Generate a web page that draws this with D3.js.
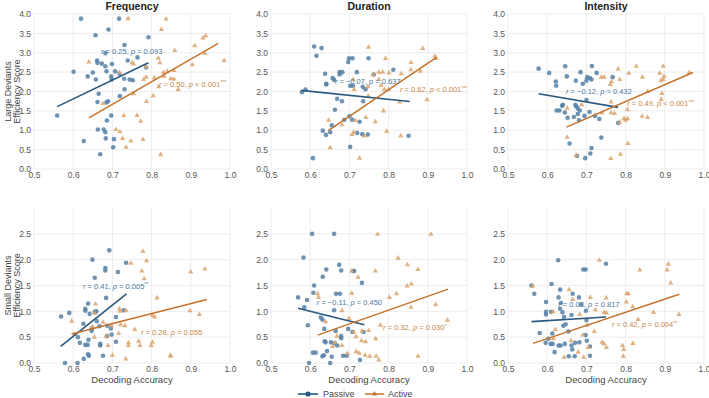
<!DOCTYPE html>
<html>
<head>
<meta charset="utf-8">
<script src="https://cdn.jsdelivr.net/npm/d3@7"></script>
<style>
    body { margin: 0; background: #fff; }
    svg { display: block; font-family: "Liberation Sans", Arial, sans-serif; }
</style>
</head>
<body>
<div id="chart"></div>
<script>
// Data: [decoding accuracy, efficiency score]
const features = ["Frequency", "Duration", "Intensity"];
const rowLabels = [["Large Deviants", "Efficiency Score"], ["Small Deviants", "Efficiency Score"]];
const xTicks = [0.5, 0.6, 0.7, 0.8, 0.9, 1.0];
const yTicksLarge = [0, 0.5, 1, 1.5, 2, 2.5, 3, 3.5, 4];
const yTicksSmall = [0, 0.5, 1, 1.5, 2, 2.5];

const freqLargePassive = [[0.62,3.88],[0.717,3.88],[0.657,3.45],[0.69,3.6],[0.792,3.4],[0.731,3.2],[0.682,2.99],[0.764,2.88],[0.739,2.8],[0.661,2.8],[0.662,2.74],[0.673,2.72],[0.699,2.71],[0.682,2.65],[0.786,2.62],[0.601,2.51],[0.65,2.49],[0.685,2.52],[0.707,2.52],[0.718,2.46],[0.697,2.39],[0.637,2.39],[0.658,2.31],[0.73,2.33],[0.698,2.31],[0.744,2.31],[0.752,2.29],[0.731,2.06],[0.665,1.94],[0.719,1.88],[0.662,1.73],[0.685,1.72],[0.689,1.75],[0.559,1.38],[0.697,1.38],[0.686,1.25],[0.663,1.02],[0.678,1.02],[0.682,0.95],[0.683,0.79],[0.627,0.72],[0.704,0.77],[0.702,0.56],[0.669,0.38]];
const freqLargeActive = [[0.74,3.88],[0.837,3.87],[0.825,3.6],[0.938,3.44],[0.931,3.38],[0.91,3.18],[0.859,3.06],[0.936,2.98],[0.817,2.86],[0.821,2.74],[0.64,2.76],[0.75,2.74],[0.754,2.71],[0.786,2.63],[0.985,2.8],[0.904,2.69],[0.807,2.35],[0.84,2.52],[0.83,2.49],[0.857,2.54],[0.832,2.39],[0.849,2.33],[0.857,2.32],[0.78,2.31],[0.786,2.37],[0.818,2.12],[0.868,2.05],[0.754,1.94],[0.804,1.89],[0.787,1.74],[0.676,1.69],[0.729,1.38],[0.763,1.38],[0.772,1.23],[0.709,1.02],[0.719,0.96],[0.726,0.79],[0.778,0.76],[0.747,0.72],[0.735,0.56],[0.823,0.37],[0.718,2.49]];

const durLargePassive = [[0.61,3.16],[0.629,3.12],[0.616,2.92],[0.749,2.86],[0.699,2.86],[0.708,2.86],[0.697,2.76],[0.812,2.56],[0.719,2.5],[0.675,2.5],[0.682,2.5],[0.675,2.44],[0.638,2.46],[0.762,2.44],[0.657,2.35],[0.661,2.3],[0.641,2.2],[0.641,2.18],[0.702,2.15],[0.709,2.15],[0.734,2.12],[0.741,2.06],[0.588,2.05],[0.579,1.98],[0.669,1.81],[0.681,1.75],[0.735,1.75],[0.663,1.53],[0.687,1.27],[0.707,1.27],[0.7,1.36],[0.726,1.22],[0.655,1.13],[0.632,0.99],[0.651,0.95],[0.64,0.88],[0.72,0.93],[0.733,0.9],[0.747,0.89],[0.851,0.86],[0.702,0.57],[0.607,0.28]];
const durLargeActive = [[0.749,3.14],[0.887,3.11],[0.918,2.91],[0.921,2.85],[0.792,2.85],[0.857,2.75],[0.857,2.56],[0.881,2.52],[0.775,2.5],[0.785,2.5],[0.801,2.48],[0.832,2.46],[0.76,2.43],[0.775,2.31],[0.709,2.31],[0.781,2.16],[0.747,2.12],[0.712,2.05],[0.789,2.05],[0.8,2.05],[0.748,1.88],[0.898,1.79],[0.828,1.73],[0.787,1.5],[0.742,1.33],[0.647,1.26],[0.681,1.14],[0.766,1.22],[0.795,0.97],[0.707,0.89],[0.738,0.85],[0.711,0.95],[0.831,0.86],[0.651,0.55],[0.726,0.28],[0.715,1.25]];

const intLargePassive = [[0.578,2.59],[0.605,2.48],[0.646,2.65],[0.714,2.66],[0.685,2.5],[0.726,2.48],[0.65,2.39],[0.622,2.26],[0.623,2.15],[0.673,2.28],[0.702,2.37],[0.7,2.28],[0.709,2.35],[0.713,2.31],[0.691,2.2],[0.767,2.37],[0.7,1.78],[0.64,1.66],[0.638,1.63],[0.672,1.66],[0.674,1.62],[0.678,1.56],[0.683,1.51],[0.624,1.51],[0.631,1.51],[0.708,1.47],[0.678,1.42],[0.645,1.46],[0.652,1.32],[0.668,1.34],[0.695,1.37],[0.722,1.37],[0.681,1.26],[0.733,1.29],[0.781,1.19],[0.738,0.81],[0.657,0.66],[0.713,0.54],[0.71,0.4],[0.676,0.34],[0.697,0.28]];
const intLargeActive = [[0.896,2.65],[0.827,2.65],[0.781,2.58],[0.808,2.47],[0.887,2.47],[0.898,2.39],[0.843,2.37],[0.738,2.37],[0.745,2.37],[0.89,2.28],[0.896,2.31],[0.785,2.31],[0.764,2.25],[0.761,2.18],[0.856,2.0],[0.893,1.95],[0.763,1.73],[0.891,1.79],[0.688,1.66],[0.651,1.57],[0.805,1.53],[0.763,1.45],[0.772,1.43],[0.74,1.45],[0.842,1.36],[0.856,1.33],[0.796,1.3],[0.805,1.3],[0.8,1.26],[0.785,1.21],[0.651,0.82],[0.806,0.66],[0.787,0.38],[0.762,0.27],[0.674,0.35],[0.962,2.49]];

const freqSmallPassive = [[0.692,2.18],[0.649,2.0],[0.735,1.94],[0.682,1.84],[0.682,1.79],[0.714,1.76],[0.655,1.65],[0.638,1.15],[0.684,1.26],[0.631,1.05],[0.631,1.01],[0.659,1.0],[0.655,0.99],[0.569,0.9],[0.59,0.97],[0.642,0.95],[0.729,1.02],[0.709,0.89],[0.626,0.76],[0.66,0.81],[0.648,0.67],[0.687,0.72],[0.667,0.71],[0.647,0.62],[0.696,0.67],[0.698,0.55],[0.686,0.52],[0.612,0.5],[0.639,0.45],[0.617,0.39],[0.709,0.41],[0.631,0.35],[0.637,0.35],[0.669,0.37],[0.669,0.34],[0.638,0.17],[0.64,0.14],[0.676,0.14],[0.627,0.08],[0.579,0.0],[0.611,0.0]];
const freqSmallActive = [[0.778,2.16],[0.787,1.98],[0.747,1.93],[0.775,1.78],[0.781,1.63],[0.9,1.76],[0.936,1.82],[0.814,1.26],[0.657,1.14],[0.596,0.81],[0.718,1.05],[0.719,1.0],[0.735,1.01],[0.898,1.01],[0.922,0.94],[0.802,0.92],[0.808,0.89],[0.655,0.96],[0.732,0.72],[0.721,0.74],[0.698,0.72],[0.757,0.65],[0.676,0.79],[0.649,0.7],[0.654,0.5],[0.685,0.52],[0.689,0.34],[0.716,0.57],[0.741,0.39],[0.741,0.34],[0.767,0.42],[0.77,0.34],[0.802,0.4],[0.799,0.34],[0.849,0.13],[0.848,0.15],[0.7,0.15],[0.734,0.08],[0.604,0.55]];

const durSmallPassive = [[0.605,2.5],[0.661,2.5],[0.583,2.04],[0.674,1.9],[0.641,1.81],[0.679,1.79],[0.71,1.78],[0.712,1.78],[0.632,1.67],[0.61,1.5],[0.732,1.55],[0.608,1.36],[0.666,1.34],[0.676,1.34],[0.569,1.27],[0.592,1.22],[0.661,1.02],[0.585,1.08],[0.627,0.88],[0.631,0.84],[0.594,0.73],[0.636,0.66],[0.697,0.66],[0.708,0.6],[0.665,0.62],[0.736,0.6],[0.637,0.42],[0.639,0.4],[0.653,0.4],[0.679,0.52],[0.679,0.48],[0.663,0.38],[0.669,0.34],[0.643,0.23],[0.607,0.2],[0.614,0.2],[0.635,0.15],[0.631,0.13],[0.655,0.12],[0.684,0.14],[0.693,0.14],[0.727,0.06],[0.597,0.0],[0.651,0.0]];
const durSmallActive = [[0.772,2.49],[0.908,2.49],[0.824,2.03],[0.848,1.9],[0.875,1.81],[0.766,1.78],[0.706,1.78],[0.722,1.66],[0.858,1.53],[0.847,1.49],[0.706,1.35],[0.82,1.34],[0.802,1.27],[0.619,1.34],[0.621,1.27],[0.92,1.13],[0.857,1.08],[0.681,1.01],[0.639,0.8],[0.95,0.83],[0.699,0.86],[0.779,0.73],[0.732,0.62],[0.749,0.63],[0.711,0.6],[0.717,0.51],[0.668,0.52],[0.731,0.43],[0.741,0.41],[0.767,0.47],[0.663,0.39],[0.681,0.34],[0.717,0.22],[0.725,0.19],[0.74,0.15],[0.752,0.13],[0.768,0.13],[0.775,0.06],[0.875,0.13],[0.695,0.19],[0.657,0.32]];

const intSmallPassive = [[0.628,1.99],[0.698,1.81],[0.692,1.81],[0.75,1.92],[0.611,1.53],[0.56,1.5],[0.567,1.34],[0.633,1.42],[0.665,1.34],[0.629,1.27],[0.681,1.27],[0.597,1.18],[0.635,1.16],[0.686,1.13],[0.633,1.05],[0.597,0.99],[0.597,0.94],[0.61,0.99],[0.639,0.98],[0.699,1.01],[0.662,0.93],[0.643,0.89],[0.7,0.83],[0.647,0.75],[0.641,0.72],[0.654,0.61],[0.581,0.58],[0.613,0.57],[0.698,0.54],[0.701,0.43],[0.603,0.47],[0.596,0.39],[0.609,0.37],[0.614,0.37],[0.634,0.34],[0.629,0.34],[0.645,0.37],[0.662,0.34],[0.671,0.39],[0.682,0.4],[0.709,0.32],[0.664,0.26],[0.619,0.21],[0.655,0.13],[0.67,0.13],[0.709,0.14]];
const intSmallActive = [[0.733,1.99],[0.909,1.91],[0.906,1.8],[0.836,1.8],[0.915,1.55],[0.563,1.49],[0.656,1.42],[0.803,1.34],[0.807,1.34],[0.71,1.27],[0.75,1.26],[0.665,1.23],[0.802,1.18],[0.723,1.03],[0.745,0.98],[0.751,0.97],[0.818,1.09],[0.871,0.98],[0.832,0.84],[0.702,0.73],[0.621,0.65],[0.72,0.61],[0.691,0.54],[0.616,0.47],[0.661,0.43],[0.74,0.4],[0.745,0.37],[0.751,0.3],[0.705,0.3],[0.792,0.34],[0.795,0.26],[0.819,0.38],[0.794,0.13],[0.643,0.11],[0.679,0.21],[0.693,0.11],[0.936,0.94],[0.615,0.99],[0.683,0.94]];

// Regression line end points, panel order: row by row
const fitPassive = [
    [[0.559, 1.61], [0.792, 2.74]], [[0.576, 2.03], [0.854, 1.74]], [[0.578, 1.94], [0.781, 1.59]],
    [[0.568, 0.32], [0.736, 1.34]], [[0.569, 1.06], [0.738, 0.74]], [[0.560, 0.80], [0.750, 0.89]]
];
const fitActive = [
    [[0.640, 1.32], [0.970, 3.24]], [[0.646, 0.99], [0.923, 2.89]], [[0.649, 1.08], [0.972, 2.49]],
    [[0.596, 0.56], [0.941, 1.23]], [[0.619, 0.54], [0.952, 1.43]], [[0.564, 0.38], [0.937, 1.33]]
];

// Stats text per panel
const rPassive = ["0.25", "\u22120.07", "\u22120.12", "0.41", "\u22120.11", "0.03"];
const pPassive = ["= 0.093", "= 0.637", "= 0.432", "= 0.005", "= 0.450", "= 0.817"];
const starsPassive = ["", "", "", "**", "", ""];
const rActive = ["0.50", "0.62", "0.49", "0.28", "0.32", "0.42"];
const pActive = ["< 0.001", "< 0.001", "< 0.001", "= 0.055", "= 0.030", "= 0.004"];
const starsActive = ["***", "***", "***", "", "*", "**"];

const passiveSets = [freqLargePassive, durLargePassive, intLargePassive, freqSmallPassive, durSmallPassive, intSmallPassive];
const activeSets = [freqLargeActive, durLargeActive, intLargeActive, freqSmallActive, durSmallActive, intSmallActive];

// Layout
const W = 709, H = 398;
const panelW = 196, panelH = 155;
const lefts = [34, 271, 508];
const tops = [14, 208];
const yMax = [4, 3];
// where each stats label starts, in data units [x, y]
const labelPassiveAt = [[0.671, 3.02], [0.663, 2.25], [0.648, 1.99], [0.625, 1.49], [0.617, 1.18], [0.628, 1.14]];
const labelActiveAt = [[0.819, 2.19], [0.829, 2.04], [0.804, 1.68], [0.773, 0.60], [0.786, 0.68], [0.765, 0.74]];

const colors = {
    passive: "#5580a6", passiveLine: "#2a587f", passiveText: "#4a79a2",
    active: "#dca36b", activeLine: "#c5722c", activeText: "#c98646",
    grid: "#e8e8e8", tick: "#555", label: "#444"
};

const svg = d3.select("#chart").append("svg")
    .attr("width", W)
    .attr("height", H);

const triangle = d3.symbol(d3.symbolTriangle, 12);

function statText(g, x, y, r, p, stars, fill) {
    const t = g.append("text")
        .attr("x", x)
        .attr("y", y + 2.5)
        .style("font-size", "7.5px")
        .style("fill", fill);
    t.append("tspan").style("font-style", "italic").text("r");
    t.append("tspan").text(" = " + r + ",  ");
    t.append("tspan").style("font-style", "italic").text("p");
    t.append("tspan").text(" " + p);
    if (stars) {
        t.append("tspan").attr("dy", -2.5).style("font-size", "5px").text(stars);
    }
}

function drawPanel(i) {
    const row = Math.floor(i / 3), col = i % 3;
    const x0 = lefts[col], y0 = tops[row];
    const x = d3.scaleLinear().domain([0.5, 1.0]).range([x0, x0 + panelW]);
    const y = d3.scaleLinear().domain([0, yMax[row]]).range([y0 + panelH, y0]);
    const yTicks = row === 0 ? yTicksLarge : yTicksSmall;
    const g = svg.append("g");

    // grid
    g.selectAll(".vg").data(xTicks).join("line")
        .attr("x1", d => x(d)).attr("x2", d => x(d))
        .attr("y1", y0).attr("y2", y0 + panelH)
        .attr("stroke", colors.grid).attr("stroke-width", 0.8);
    g.selectAll(".hg").data(yTicks).join("line")
        .attr("class", "hg")
        .attr("x1", x0).attr("x2", x0 + panelW)
        .attr("y1", d => y(d)).attr("y2", d => y(d))
        .attr("stroke", colors.grid).attr("stroke-width", 0.8);

    // axes, labels only
    const xAxis = g.append("g")
        .attr("transform", `translate(0,${y0 + panelH})`)
        .call(d3.axisBottom(x).tickValues(xTicks).tickFormat(d3.format(".1f")).tickSize(0).tickPadding(3));
    const yAxis = g.append("g")
        .attr("transform", `translate(${x0},0)`)
        .call(d3.axisLeft(y).tickValues(yTicks).tickFormat(d3.format(".1f")).tickSize(0).tickPadding(3));
    [xAxis, yAxis].forEach(a => {
        a.select(".domain").remove();
        a.selectAll("text")
            .style("font-size", "8.5px")
            .style("font-family", "inherit")
            .attr("fill", colors.tick);
    });

    // points
    g.selectAll(".pas").data(passiveSets[i]).join("circle")
        .attr("cx", d => x(d[0])).attr("cy", d => y(d[1]))
        .attr("r", 2.3)
        .attr("fill", colors.passive)
        .attr("fill-opacity", 0.85);
    g.selectAll(".act").data(activeSets[i]).join("path")
        .attr("d", triangle)
        .attr("transform", d => `translate(${x(d[0])},${y(d[1])})`)
        .attr("fill", colors.active)
        .attr("fill-opacity", 0.85);

    // fit lines
    const line = d3.line().x(d => x(d[0])).y(d => y(d[1]));
    g.append("path").attr("d", line(fitPassive[i]))
        .attr("fill", "none").attr("stroke", colors.passiveLine).attr("stroke-width", 1.6);
    g.append("path").attr("d", line(fitActive[i]))
        .attr("fill", "none").attr("stroke", colors.activeLine).attr("stroke-width", 1.5);

    statText(g, x(labelPassiveAt[i][0]), y(labelPassiveAt[i][1]), rPassive[i], pPassive[i], starsPassive[i], colors.passiveText);
    statText(g, x(labelActiveAt[i][0]), y(labelActiveAt[i][1]), rActive[i], pActive[i], starsActive[i], colors.activeText);

    if (row === 0) {
        g.append("text")
            .attr("x", x0 + panelW / 2).attr("y", 10)
            .attr("text-anchor", "middle")
            .style("font-size", "10.5px").style("font-weight", "bold")
            .attr("fill", "#222")
            .text(features[col]);
    } else {
        g.append("text")
            .attr("x", x0 + panelW / 2).attr("y", 383)
            .attr("text-anchor", "middle")
            .style("font-size", "9.5px")
            .attr("fill", colors.label)
            .text("Decoding Accuracy");
    }
    if (col === 0) {
        const cy = y0 + panelH / 2;
        rowLabels[row].forEach((txt, k) => {
            g.append("text")
                .attr("transform", `translate(${10.5 + k * 9},${cy}) rotate(-90)`)
                .attr("text-anchor", "middle")
                .style("font-size", "9px")
                .attr("fill", colors.label)
                .text(txt);
        });
    }
}

d3.range(6).forEach(drawPanel);

// Legend
const legend = svg.append("g").attr("transform", "translate(298,394)");
legend.append("line").attr("x1", 0).attr("x2", 20).attr("stroke", colors.passiveLine).attr("stroke-width", 1.6);
legend.append("circle").attr("cx", 10).attr("r", 2.6).attr("fill", colors.passiveLine);
legend.append("text").attr("x", 25).attr("y", 3)
    .style("font-size", "9px").attr("fill", colors.label).text("Passive");
legend.append("line").attr("x1", 67).attr("x2", 86).attr("stroke", colors.activeLine).attr("stroke-width", 1.5);
legend.append("path").attr("d", triangle).attr("transform", "translate(76.5,0)").attr("fill", colors.activeLine);
legend.append("text").attr("x", 90).attr("y", 3)
    .style("font-size", "9px").attr("fill", colors.label).text("Active");
</script>
</body>
</html>
